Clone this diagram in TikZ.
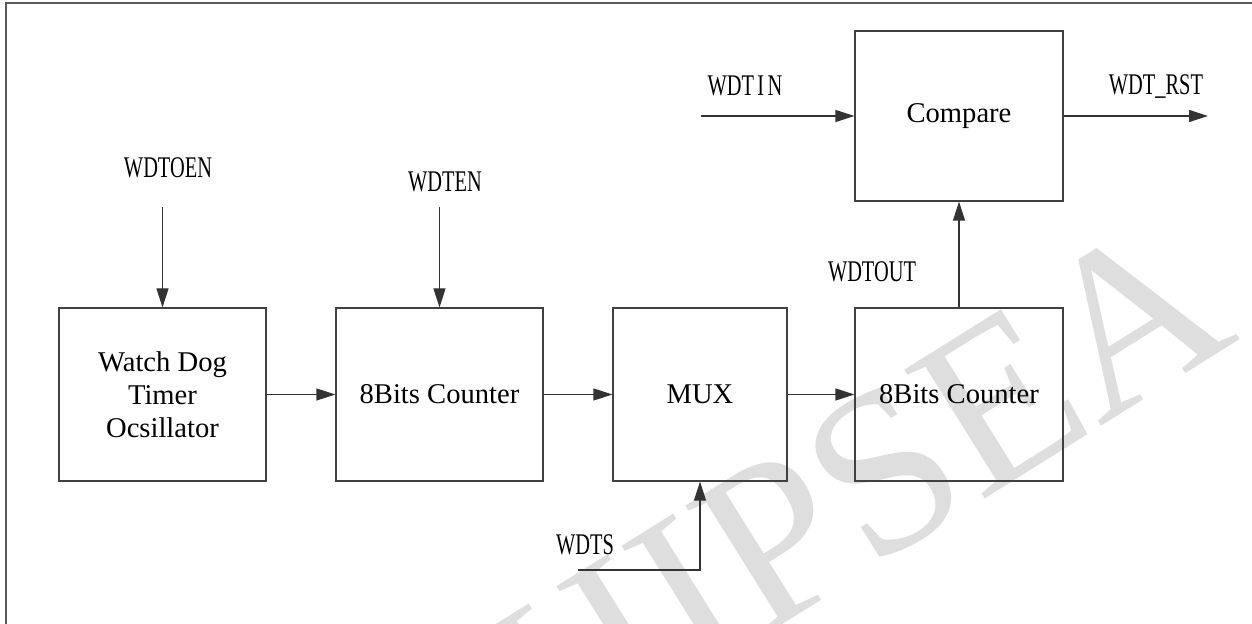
\documentclass[tikz,border=0pt]{standalone}
\usepackage{fontspec}
\setmainfont{Liberation Serif}
\newfontfamily\lblfont{Liberation Serif}
\usetikzlibrary{arrows.meta}
\newcommand\lbtext[1]{\scalebox{0.68}[1]{#1}}
\tikzset{
  blk/.style={draw=black!75, line width=0.6pt, inner sep=0pt, minimum height=86.5pt,
    font=\fontsize{14.3}{16.5}\selectfont, align=center},
  lbl/.style={font=\lblfont\fontsize{15}{15}\selectfont, inner sep=0pt, anchor=base},
  wire/.style={draw=black!80, line width=0.6pt},
  arr/.style={wire, -{Triangle[length=9.5pt,width=6pt]}},
}
\begin{document}
\begin{tikzpicture}[x=0.5pt,y=-0.5pt]
\useasboundingbox (0,0) rectangle (1252,624);
\clip (0,0) rectangle (1252,624);
% watermark
\node[rotate=32, anchor=base east, text=black!13, font=\fontsize{116}{116}\selectfont, inner sep=0pt] (wm) at (1242,338) {CHIPSEA};
% frame
\draw[black!65, line width=0.8pt] (6,630) |- (1260,3);
% blocks
\node[blk, minimum width=103.5pt] (osc) at (162.5,394.5) {Watch Dog\\Timer\\Ocsillator};
\node[blk, minimum width=103.5pt] (cnt1) at (439.5,394.5) {8Bits Counter};
\node[blk, minimum width=87pt] (mux) at (700,394.5) {MUX};
\node[blk, minimum width=104pt] (cnt2) at (959,394.5) {8Bits Counter};
\node[blk, minimum width=104pt, minimum height=85pt] (cmp) at (959,116) {Compare};
% labels
\node[lbl] (lOE) at (168,178) {\lbtext{WDTOEN}};
\node[lbl] (lEN) at (445,192) {\lbtext{WDTEN}};
\node[lbl] (lIN) at (745,96) {\lbtext{WDT\,I\,N}};
\node[lbl] (lRST) at (1156,95) {\lbtext{WDT\_RST}};
\node[lbl] (lOUT) at (872,282) {\lbtext{WDTOUT}};
\node[lbl] (lTS) at (585,554) {\lbtext{WDTS}};
% free ends
\coordinate (oeS) at (162.5,207);
\coordinate (enS) at (439.5,207);
\coordinate (tsS) at (578,570);
\coordinate (inS) at (701,116);
\coordinate (rstE) at (1208,116);
% connectors
\draw[arr] (oeS) -- (osc.north);
\draw[arr] (enS) -- (cnt1.north);
\draw[arr] (osc.east) -- (cnt1.west);
\draw[arr] (cnt1.east) -- (mux.west);
\draw[arr] (mux.east) -- (cnt2.west);
\draw[arr] (tsS) -| (mux.south);
\draw[arr] (cnt2.north) -- (cmp.south);
\draw[arr] (inS) -- (cmp.west);
\draw[arr] (cmp.east) -- (rstE);
\end{tikzpicture}
\end{document}
